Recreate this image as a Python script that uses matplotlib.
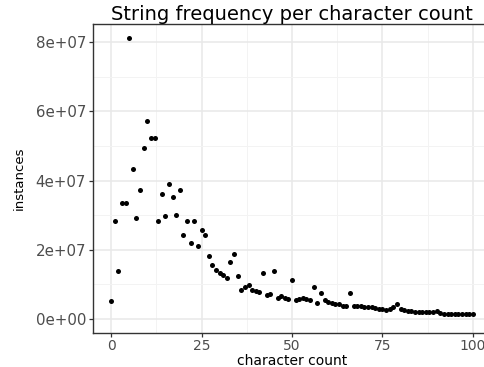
import matplotlib.pyplot as plt
import numpy as np

# character count (x) and number of strings (in millions)
char_count = list(range(0, 101))
instances_m = [
    5.2, 28.2, 13.8, 33.6, 33.6, 81.2, 43.3, 29.3, 37.4, 49.3,
    57.3, 52.4, 52.4, 28.3, 36.2, 29.8, 39.0, 35.2, 30.2, 37.3,
    24.2, 28.2, 22.1, 28.3, 21.1, 25.8, 24.4, 18.1, 15.5, 14.1,
    13.3, 12.7, 11.8, 16.4, 18.7, 12.4, 8.3, 9.3, 9.8, 8.5,
    8.2, 7.7, 13.3, 7.0, 7.2, 13.8, 6.2, 6.7, 6.0, 5.8,
    11.2, 5.4, 5.7, 6.1, 5.8, 5.4, 9.3, 4.5, 7.4, 5.5,
    5.0, 4.7, 4.4, 4.2, 3.8, 3.7, 7.4, 3.8, 3.8, 3.8,
    3.6, 3.5, 3.4, 3.3, 3.0, 2.8, 2.6, 2.9, 3.5, 4.2,
    2.8, 2.6, 2.4, 2.3, 2.1, 2.1, 2.0, 1.9, 1.9, 2.1,
    2.4, 1.8, 1.4, 1.35, 1.35, 1.35, 1.35, 1.35, 1.35, 1.35,
    1.35,
]
x_ticks = [0, 25, 50, 75, 100]
y_ticks = [0, 2e7, 4e7, 6e7, 8e7]
y_tick_labels = ["0e+00", "2e+07", "4e+07", "6e+07", "8e+07"]

plt.rcParams['font.family'] = ['DejaVu Sans']

W, H = 485, 367
fig = plt.figure(figsize=(W / 100, H / 100), dpi=100)
# panel runs a little past the right edge of the picture
left, right, top, bottom = 93, 491, 24, 333
ax = fig.add_axes([left / W, 1 - bottom / H, (right - left) / W, (bottom - top) / H])

y = np.array(instances_m) * 1e6
ax.scatter(char_count, y, s=13, color="black", zorder=3, linewidths=0)

ax.set_xlim(-5, 105)
ax.set_ylim(-4.06e6, 85.3e6)
ax.set_xticks(x_ticks)
ax.set_xticks([12.5, 37.5, 62.5, 87.5], minor=True)
ax.set_yticks(y_ticks)
ax.set_yticklabels(y_tick_labels)
ax.set_yticks([1e7, 3e7, 5e7, 7e7], minor=True)

ax.grid(True, which="major", color="#E8E8E8", linewidth=1.1)
ax.grid(True, which="minor", color="#F3F3F3", linewidth=0.7)
ax.set_axisbelow(True)
for s in ax.spines.values():
    s.set_color("#333333")
    s.set_linewidth(1.0)

ax.tick_params(which="major", length=3, width=0.9, color="#333333",
               labelsize=10.8, labelcolor="#4D4D4D", pad=2)
ax.tick_params(axis="x", which="major", labelsize=10, pad=1.5)
ax.tick_params(which="minor", length=0)

ax.set_title("String frequency per character count", fontsize=14, pad=2.5)
ax.set_xlabel("character count", fontsize=10)
ax.xaxis.set_label_coords(0.5, -0.0665)
ax.set_ylabel("instances", fontsize=9.5)
ax.yaxis.set_label_coords(-0.17, 0.5)

fig.savefig("out.png", dpi=100)
